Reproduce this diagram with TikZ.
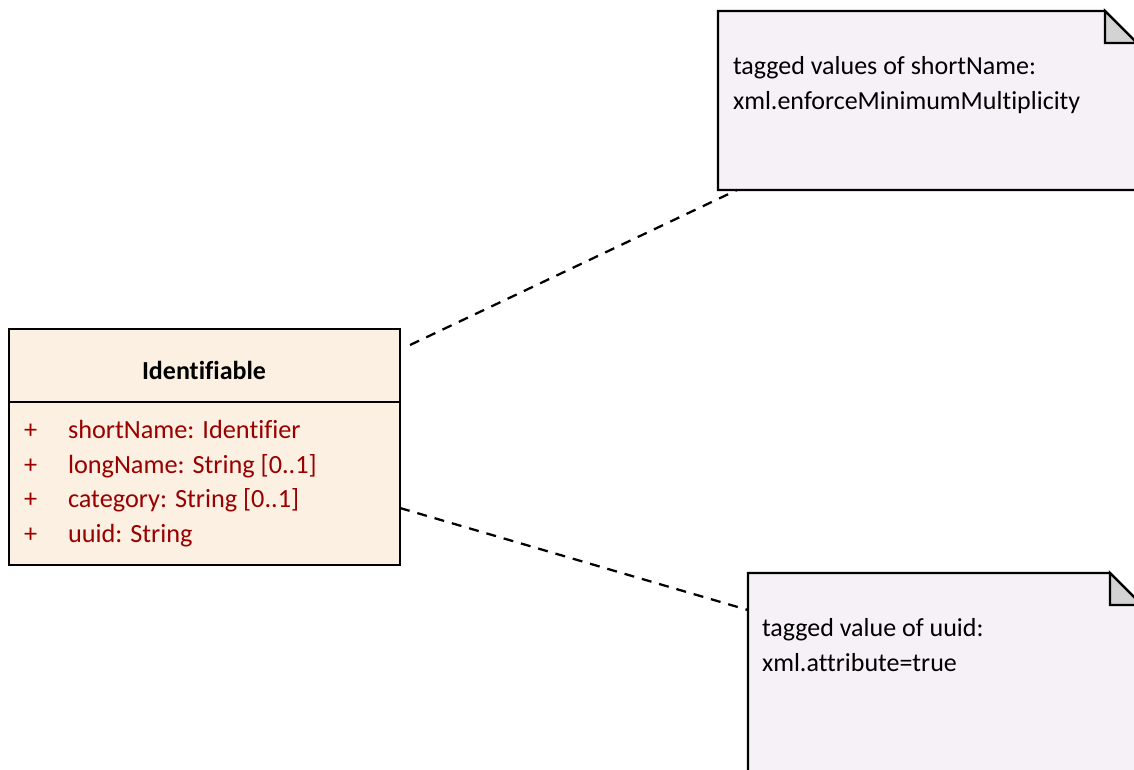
\documentclass[tikz,border=0pt]{standalone}
\usepackage{fontspec}
\setmainfont{Carlito}[Ligatures=NoCommon]
\usetikzlibrary{calc}
\definecolor{classfill}{RGB}{251,240,225}
\definecolor{notefill}{RGB}{246,241,246}
\definecolor{foldgray}{RGB}{211,211,211}
\definecolor{attrred}{RGB}{153,0,0}
\begin{document}
\begin{tikzpicture}[x=0.75pt,y=-0.75pt,
  every node/.style={inner sep=0pt, outer sep=0pt},
  classbox/.style={draw=black, line width=1.75pt, fill=classfill, rectangle},
  noteline/.style={draw=black, line width=1.75pt, line join=miter},
  anchorbox/.style={rectangle, draw=none},
  titletext/.style={font=\fontsize{19.5}{23}\selectfont\bfseries, text=black},
  attr/.style={font=\fontsize{19.7}{23}\selectfont, text=attrred},
  notetext/.style={font=\fontsize{19.5}{23}\selectfont, text=black},
  conn/.style={draw=black, line width=1.7pt, dash pattern=on 7.5pt off 6pt}]
\useasboundingbox (0,0) rectangle (1134,769);
\clip (0,0) rectangle (1134,769);
\fill[white] (0,0) rectangle (1134,769);

% class
\node[classbox, anchor=north west, minimum width=293.25pt, minimum height=177pt] (cls) at (9,329) {};
\draw[line width=1.75pt] (cls.west |- 0,402) -- (cls.east |- 0,402);
\node[titletext, anchor=base] (title) at (204,379) {Identifiable};
\node[attr, anchor=base west] (p1) at (24,438) {+};
\node[attr, anchor=base west] (a1) at (68,438) {shortName: Identifier};
\node[attr, anchor=base west] (p2) at (24,473) {+};
\node[attr, anchor=base west] (a2) at (68,473) {longName: String [0..1]};
\node[attr, anchor=base west] (p3) at (24,507) {+};
\node[attr, anchor=base west] (a3) at (68,507) {category: String [0..1]};
\node[attr, anchor=base west] (p4) at (24,542) {+};
\node[attr, anchor=base west] (a4) at (68,542) {uuid: String};

% note 1
\node[anchorbox, anchor=north west, minimum width=314.25pt, minimum height=134.25pt] (n1) at (718,11) {};
\draw[noteline, fill=notefill] (n1.south west) -- (n1.north west) -- ($(n1.north east)+(-32,0)$) -- ($(n1.north east)+(0,32)$) -- (n1.south east) -- cycle;
\draw[noteline, fill=foldgray] ($(n1.north east)+(-32,0)$) -- ($(n1.north east)+(-32,32)$) -- ($(n1.north east)+(0,32)$) -- cycle;
\node[notetext, anchor=base west] (t1a) at (733,74) {tagged values of shortName:};
\node[notetext, anchor=base west] (t1b) at (733,109) {xml.enforceMinimumMultiplicity};

% note 2
\node[anchorbox, anchor=north west, minimum width=295.5pt, minimum height=180pt] (n2) at (748,573) {};
\draw[noteline, fill=notefill] (n2.south west) -- (n2.north west) -- ($(n2.north east)+(-32,0)$) -- ($(n2.north east)+(0,32)$) -- (n2.south east) -- cycle;
\draw[noteline, fill=foldgray] ($(n2.north east)+(-32,0)$) -- ($(n2.north east)+(-32,32)$) -- ($(n2.north east)+(0,32)$) -- cycle;
\node[notetext, anchor=base west] (t2a) at (762,636) {tagged value of uuid:};
\node[notetext, anchor=base west] (t2b) at (762,671) {xml.attribute=true};

% connectors
\draw[conn] ($(cls.north east)+(10,16)$) -- ($(n1.south west)+(19,0)$);
\draw[conn] ($(cls.east)+(0,61)$) -- ($(n2.north west)+(0,37)$);
\end{tikzpicture}
\end{document}
